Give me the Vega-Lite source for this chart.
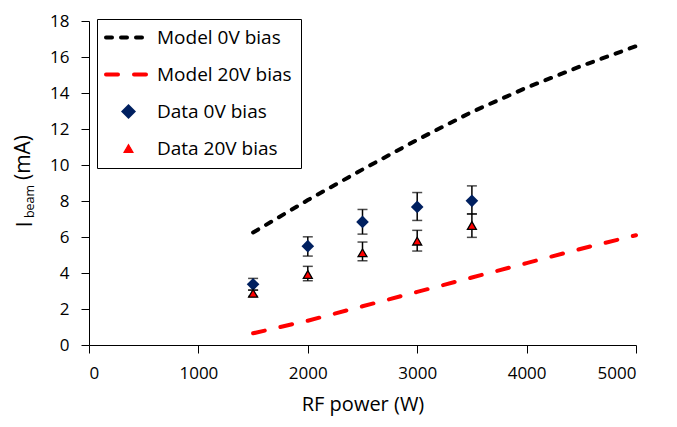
{
  "$schema": "https://vega.github.io/schema/vega-lite/v6.json",
  "width": 547,
  "height": 324,
  "autosize": {"type": "none"},
  "padding": {"left": 89, "top": 21, "right": 41, "bottom": 82},
  "background": "white",
  "config": {
    "view": {"stroke": null},
    "font": "Open Sans",
    "axis": {
      "grid": false,
      "domainColor": "black",
      "domainWidth": 1,
      "tickColor": "black",
      "tickWidth": 1,
      "tickSize": 8,
      "labelColor": "black",
      "labelFont": "Open Sans",
      "labelFontSize": 17,
      "titleColor": "black",
      "titleFont": "Open Sans",
      "titleFontWeight": "normal"
    }
  },
  "datasets": {
    "model": [
      {"series": "Model 0V bias", "power": 1500, "current": 6.25},
      {"series": "Model 0V bias", "power": 2000, "current": 8.05},
      {"series": "Model 0V bias", "power": 2500, "current": 9.75},
      {"series": "Model 0V bias", "power": 3000, "current": 11.4},
      {"series": "Model 0V bias", "power": 3500, "current": 12.95},
      {"series": "Model 0V bias", "power": 4000, "current": 14.3},
      {"series": "Model 0V bias", "power": 4500, "current": 15.5},
      {"series": "Model 0V bias", "power": 5000, "current": 16.6},
      {"series": "Model 20V bias", "power": 1500, "current": 0.65},
      {"series": "Model 20V bias", "power": 2000, "current": 1.35},
      {"series": "Model 20V bias", "power": 2500, "current": 2.15},
      {"series": "Model 20V bias", "power": 3000, "current": 2.95},
      {"series": "Model 20V bias", "power": 3500, "current": 3.75},
      {"series": "Model 20V bias", "power": 4000, "current": 4.55},
      {"series": "Model 20V bias", "power": 4500, "current": 5.35},
      {"series": "Model 20V bias", "power": 5000, "current": 6.1}
    ],
    "measured": [
      {"series": "Data 0V bias", "power": 1500, "current": 3.37, "lo": 3.05, "hi": 3.7},
      {"series": "Data 0V bias", "power": 2000, "current": 5.49, "lo": 4.94, "hi": 6.01},
      {"series": "Data 0V bias", "power": 2500, "current": 6.84, "lo": 6.16, "hi": 7.53},
      {"series": "Data 0V bias", "power": 3000, "current": 7.67, "lo": 6.92, "hi": 8.47},
      {"series": "Data 0V bias", "power": 3500, "current": 8.01, "lo": 7.27, "hi": 8.84},
      {"series": "Data 20V bias", "power": 1500, "current": 2.87, "lo": 2.7, "hi": 3.05},
      {"series": "Data 20V bias", "power": 2000, "current": 3.92, "lo": 3.57, "hi": 4.37},
      {"series": "Data 20V bias", "power": 2500, "current": 5.12, "lo": 4.68, "hi": 5.72},
      {"series": "Data 20V bias", "power": 3000, "current": 5.77, "lo": 5.22, "hi": 6.37},
      {"series": "Data 20V bias", "power": 3500, "current": 6.64, "lo": 5.98, "hi": 7.29}
    ]
  },
  "resolve": {"axis": {"y": "independent"}},
  "layer": [
    {
      "data": {"name": "model"},
      "mark": {"type": "line", "strokeWidth": 4, "strokeCap": "round"},
      "encoding": {
        "x": {"field": "power", "type": "quantitative",
              "scale": {"domain": [0, 5000], "nice": false},
              "axis": {"title": "RF power (W)", "titleFontSize": 20, "titlePadding": 13, "labelPadding": 12, "values": [0, 1000, 2000, 3000, 4000, 5000], "format": "d"}},
        "y": {"field": "current", "type": "quantitative",
              "scale": {"domain": [0, 18], "nice": false},
              "axis": {"title": "I", "titleFontSize": 22, "titleX": -65, "titleY": 203, "titleAlign": "center", "titleBaseline": "middle", "titleAngle": -90, "labelPadding": 12, "values": [0, 2, 4, 6, 8, 10, 12, 14, 16, 18]}},
        "color": {"field": "series", "type": "nominal",
                  "scale": {"domain": ["Model 0V bias", "Model 20V bias", "Data 0V bias", "Data 20V bias"], "range": ["#000000", "#FF0000", "#002060", "#FF0000"]},
                  "legend": {
                    "title": null,
                    "orient": "none",
                    "legendX": 8,
                    "legendY": -2,
                    "strokeColor": "black",
                    "padding": 9,
                    "symbolSize": 400,
                    "symbolOffset": 13,
                    "rowPadding": 17,
                    "labelOffset": 19,
                    "labelFontSize": 19,
                    "labelColor": "black",
                    "labelFont": "Open Sans",
                    "labelLimit": 300,
                    "encode": {
                      "symbols": {
                        "update": {
                          "shape": {"signal": "datum.value === 'Data 0V bias' ? 'diamond' : datum.value === 'Data 20V bias' ? 'triangle-up' : 'M-2.25,0H2.25'"},
                          "size": {"signal": "datum.value === 'Data 0V bias' ? 225 : datum.value === 'Data 20V bias' ? 75 : 400"},
                          "fill": {"signal": "datum.value === 'Data 0V bias' ? '#002060' : datum.value === 'Data 20V bias' ? '#FF0000' : 'transparent'"},
                          "stroke": {"signal": "datum.value === 'Model 0V bias' ? '#000000' : datum.value === 'Model 20V bias' ? '#FF0000' : datum.value === 'Data 20V bias' ? '#000000' : 'transparent'"},
                          "strokeWidth": {"signal": "datum.value === 'Data 20V bias' ? 1.3 : datum.value === 'Data 0V bias' ? 0 : 4"},
                          "strokeDash": {"signal": "datum.value === 'Model 0V bias' ? [6, 9] : datum.value === 'Model 20V bias' ? [12, 16] : [1, 0]"},
                          "strokeCap": {"value": "round"},
                          "opacity": {"value": 1}
                        }
                      }
                    }
                  }},
        "strokeDash": {"field": "series", "type": "nominal",
                       "scale": {"domain": ["Model 0V bias", "Model 20V bias"], "range": [[6, 9], [12, 16]]},
                       "legend": null}
      }
    },
    {
      "data": {"name": "measured"},
      "mark": {"type": "rule", "color": "black", "strokeWidth": 1.5},
      "encoding": {
        "x": {"field": "power", "type": "quantitative", "axis": {"title": "RF power (W)"}},
        "y": {"field": "lo", "type": "quantitative",
              "axis": {"title": "beam", "orient": "left", "labels": false, "ticks": false, "domain": false, "titleFontSize": 12.5, "titleX": -60, "titleY": 180, "titleAlign": "center", "titleBaseline": "middle", "titleAngle": -90}},
        "y2": {"field": "hi"}
      }
    },
    {
      "data": {"name": "measured"},
      "mark": {"type": "tick", "orient": "horizontal", "color": "black", "size": 10, "thickness": 1.5},
      "encoding": {
        "x": {"field": "power", "type": "quantitative", "axis": {"title": "RF power (W)"}},
        "y": {"field": "lo", "type": "quantitative", "axis": null}
      }
    },
    {
      "data": {"name": "measured"},
      "mark": {"type": "tick", "orient": "horizontal", "color": "black", "size": 10, "thickness": 1.5},
      "encoding": {
        "x": {"field": "power", "type": "quantitative", "axis": {"title": "RF power (W)"}},
        "y": {"field": "hi", "type": "quantitative", "axis": null}
      }
    },
    {
      "data": {"name": "measured"},
      "mark": {"type": "point", "filled": true, "opacity": 1, "strokeOpacity": 1},
      "encoding": {
        "x": {"field": "power", "type": "quantitative", "axis": {"title": "RF power (W)"}},
        "y": {"field": "current", "type": "quantitative",
              "axis": {"title": "(mA)", "orient": "left", "labels": false, "ticks": false, "domain": false, "titleFontSize": 21, "titleX": -66, "titleY": 136, "titleAlign": "center", "titleBaseline": "middle", "titleAngle": -90}},
        "color": {"field": "series", "type": "nominal"},
        "shape": {"field": "series", "type": "nominal",
                  "scale": {"domain": ["Data 0V bias", "Data 20V bias"], "range": ["diamond", "triangle-up"]},
                  "legend": null},
        "size": {"field": "series", "type": "nominal",
                 "scale": {"domain": ["Data 0V bias", "Data 20V bias"], "range": [160, 80]},
                 "legend": null},
        "stroke": {"condition": {"test": "datum.series === 'Data 20V bias'", "value": "#000000"}, "value": "#002060"},
        "strokeWidth": {"condition": {"test": "datum.series === 'Data 20V bias'", "value": 1.3}, "value": 0}
      }
    }
  ]
}
